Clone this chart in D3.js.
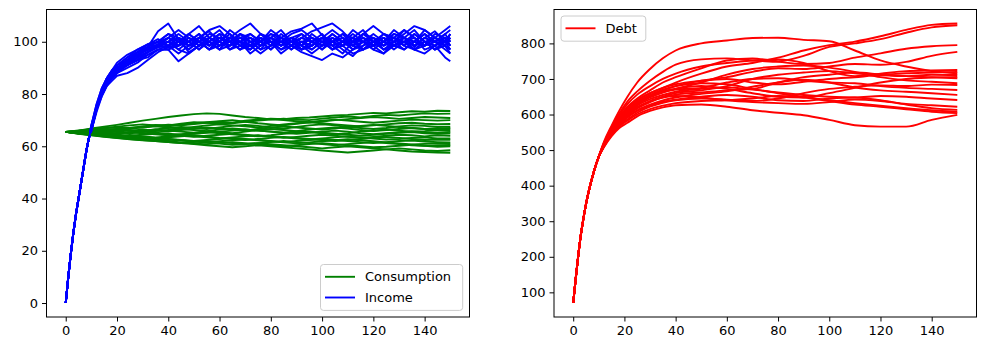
<!DOCTYPE html>
<html><head><meta charset="utf-8">
<script src="https://cdn.jsdelivr.net/npm/d3@7"></script>
<style>
body{margin:0;background:#fff}
svg{display:block}
text{font-family:"DejaVu Sans",sans-serif}
</style>
</head><body>
<svg id="chart" width="986" height="351"></svg>
<script>
// ---------- DATA ----------
const xTicks = [0,20,40,60,80,100,120,140];
const leftYTicks = [0,20,40,60,80,100];
const rightYTicks = [100,200,300,400,500,600,700,800];
const seriesNames = ["Consumption","Income","Debt"];

// income: t = 0..9 shared start, then one row per path from t = 10
const incomeTimes = [0,1,2,3,4,5,6,7,8,9,10,12,14,16,18,20,24,28,32,36,40,44,48,52,56,60,64,68,72,76,80,84,88,92,96,100,104,108,112,116,120,124,128,132,136,140,144,148,150];
const incomeStart = [0,10,19,27,34,40,46,52,58,63];
const incomePaths = [
[67,75,81,85,88,90,93,96,97.5,99,101.5,100,97,101.5,104,100,98.5,103,100,97,101.5,104.5,100,98.5,103,100,97,100,104.5,101.5,98.5,100,103,101.5,98,101.5,104,100,101.5],
[66,74,80,84,87,89,92,94,98,104,107,101,96,98.5,101.5,104.5,100,97,98.5,103,100,95.5,98.5,101.5,100,103,98.5,95.5,100,103,101.5,97,100,104.5,101.5,98.5,100,103,100],
[67,74,80,85,87,89,91,93,96,99,97,92.5,95.5,98.5,100,97,101.5,100,95.5,98.5,101.5,100,97,100,98.5,101.5,100,103,98.5,97,100,101.5,98.5,100,103,100,97,98.5,95.5],
[66,73,79,83,85,87,88,90,93,96,98,98.5,101.5,100,97,100,103,98.5,97,101.5,100,98.5,101.5,97,100,98.5,103,100,101.5,97,98.5,103,101.5,100,97,100,101.5,98.5,97],
[68,76,82,86,89,91,94,96,98,100,98.5,101.5,100,103,98.5,101.5,100,97,100,101.5,98.5,103,100,101.5,104,105.5,107,104,100,101.5,98.5,100,103,101.5,100,98.5,101.5,100,103],
[67,75,81,85,88,90,92,95,97,98,100,98.5,101.5,98.5,100,103,97,100,101.5,98.5,100,97,98.5,96,94.5,93,95.5,94,97,98.5,100,97,98.5,101.5,100,103,100,98.5,97],
[66,74,80,84,87,90,93,95,97,99,100,103,100,97,101.5,100,98.5,101.5,103,100,97,101.5,104,105,107,102.5,100,98.5,101.5,100,97,100,101.5,98.5,103,100,97,100,101.5],
[67,75,80,84,87,89,91,94,96,98,98.5,100,97,100,98.5,101.5,100,103,100,98.5,101.5,100,97,100,101.5,98.5,100,97,94.5,98.5,101.5,100,97,100,98.5,101.5,100,103,104.5],
[68,75,81,85,88,91,94,97,99,98,101.5,104.5,101.5,98.5,100,97,101.5,100,98.5,103,101.5,98.5,100,103,100,97,101.5,100,98.5,103,100,101.5,98.5,97,100,104.5,101.5,100,98.5],
[67,74,80,84,86,88,90,92,95,97,97,100,103,100,97,98.5,101.5,104.5,107,103,100,101.5,98.5,97,100,101.5,98.5,100,103,100,98.5,95.5,100,101.5,104.5,100,98.5,101.5,100],
[66,75,81,86,89,91,93,95,98,100,103,100,98.5,101.5,104.5,106,103,100,98.5,100,97,100,101.5,100,98.5,101.5,97,100,101.5,104.5,100,98.5,101.5,100,97,98.5,101.5,104.5,106],
[67,75,81,85,88,90,92,94,96,98,100,97,100,101.5,98.5,100,97,98.5,101.5,100,103,100,98.5,101.5,100,97,100,101.5,98.5,100,97,95.5,98.5,100,97,95.5,98.5,94,92.5],
[66,74,80,85,88,90,93,96,98,100,101.5,98.5,103,100,101.5,98.5,100,97,100,101.5,98.5,100,103,104.5,101.5,100,97,98.5,100,103,106,103,100,101.5,98.5,100,97,100,103],
[67,75,81,84,87,89,91,93,94,97,98.5,101.5,100,97,100,103,101.5,98.5,97,100,103,101.5,100,97,98.5,101.5,104.5,101.5,100,97,100,103,101.5,104.5,101.5,98.5,100,101.5,100],
[68,76,82,86,88,90,92,95,97,99,100,97,95.5,98.5,101.5,100,104.5,101.5,100,97,98.5,100,101.5,98.5,95.5,98.5,100,103,101.5,100,98.5,101.5,100,97,100,103,100,97,95.5],
[66,74,79,83,86,88,91,94,96,98,100,101.5,98.5,100,97,101.5,100,103,101.5,98.5,100,97,100,98.5,101.5,100,98.5,100,97,100,101.5,98.5,100,103,106,104.5,101.5,100,103],
[67,75,80,84,87,89,92,96,99,101,98.5,100,103,106,101.5,98.5,100,101.5,98.5,100,104.5,101.5,98.5,100,97,100,103,100,98.5,101.5,100,97,98.5,101.5,100,98.5,103,101.5,98.5],
[67,74,81,85,87,90,92,93,95,97,97,98.5,100,103,100,97,98.5,100,103,100,101.5,98.5,100,97,98.5,101.5,100,98.5,101.5,100,103,100,98.5,100,101.5,97,98.5,100,97],
[66,75,81,86,89,92,95,97,99,100,103,101.5,98.5,100,103,101.5,98.5,100,97,101.5,100,98.5,101.5,103,100,98.5,100,101.5,97,100,98.5,100,104.5,101.5,98.5,101.5,100,98.5,101.5],
[67,74,80,84,87,89,91,93,96,98,98.5,95.5,98.5,101.5,100,98.5,101.5,100,98.5,95.5,98.5,101.5,100,98.5,97,100,101.5,98.5,95.5,97,100,98.5,101.5,98.5,97,100,98.5,101.5,98.5]
];

// consumption: one row per path, t = 0,5,...,150
const consumptionTimes = [0,5,10,15,20,25,30,35,40,45,50,55,60,65,70,75,80,85,90,95,100,105,110,115,120,125,130,135,140,145,150];
const consumptionPaths = [
[65.5,66.0,66.8,67.5,68.2,69.0,69.8,70.5,71.2,71.8,72.3,72.6,72.4,71.8,71.2,70.8,70.3,70.0,69.6,69.2,69.5,70.0,70.4,70.8,71.2,70.9,70.5,70.8,71.2,71.0,70.8],
[65.5,65.8,66.2,66.0,66.5,67.0,67.4,67.8,68.3,68.0,68.5,69.0,69.4,69.0,69.8,70.2,70.6,70.4,70.8,71.0,71.4,71.8,72.0,72.4,72.8,72.6,73.0,73.4,73.2,73.6,73.5],
[65.5,65.9,66.5,67.0,67.2,67.0,67.6,68.2,68.0,68.6,69.2,69.0,68.5,68.8,69.4,69.8,70.2,70.6,70.2,70.0,70.6,71.0,71.4,71.0,71.6,72.0,71.8,72.2,72.6,72.4,72.5],
[65.5,66.1,66.4,66.9,67.5,68.0,68.4,68.0,67.6,68.2,68.8,69.2,69.6,70.0,69.4,68.8,68.4,68.0,68.6,69.2,69.8,70.2,69.8,69.4,69.0,69.4,69.8,70.2,70.0,69.8,70.0],
[65.5,65.6,66.0,66.5,66.2,66.8,67.2,67.6,67.2,66.8,67.4,68.0,68.4,68.0,67.6,67.2,67.8,68.4,68.8,69.2,68.8,68.4,68.0,67.6,68.0,68.4,68.8,69.0,68.6,68.4,68.5],
[65.5,65.3,65.8,66.2,66.6,66.2,65.8,66.4,67.0,67.4,67.0,66.6,67.2,67.8,68.2,67.8,67.2,66.8,67.4,68.0,68.4,68.0,67.4,67.0,66.6,67.0,67.6,68.0,67.8,67.4,67.5],
[65.5,65.7,65.4,65.9,66.3,65.9,66.4,66.0,65.6,66.2,66.8,67.2,66.8,66.4,66.0,66.6,67.2,67.6,67.2,66.8,66.4,66.8,67.4,67.8,68.2,67.8,67.4,67.0,66.6,66.8,67.0],
[65.5,65.2,65.6,65.2,64.8,65.4,66.0,66.4,66.0,65.6,65.2,65.8,66.4,66.8,66.4,66.0,65.6,65.2,65.8,66.4,66.8,67.2,66.8,66.2,65.8,66.2,66.6,67.0,66.6,66.4,66.5],
[65.5,65.8,66.2,65.8,65.4,65.0,65.4,65.8,66.2,66.6,66.2,65.8,65.4,65.0,65.6,66.2,66.6,66.2,65.8,65.4,65.0,64.6,65.0,65.6,66.0,66.4,66.0,65.6,65.8,66.2,66.0],
[65.5,65.1,64.8,65.2,65.6,66.0,65.6,65.2,64.8,64.4,64.8,65.2,65.6,66.0,66.4,66.0,65.6,65.2,64.8,65.2,65.6,66.0,65.6,65.0,64.6,65.0,65.4,65.8,65.4,65.2,65.5],
[65.5,65.4,65.0,64.6,64.9,65.3,65.0,64.6,64.2,64.6,65.0,65.4,65.0,64.6,64.2,63.8,64.2,64.8,65.2,65.6,65.2,64.8,64.4,64.0,64.4,64.8,65.2,65.4,65.0,64.8,65.0],
[65.5,65.0,64.6,64.9,64.4,64.0,64.4,64.8,64.4,64.0,63.6,64.0,64.4,64.8,64.4,64.0,63.6,63.2,63.6,64.0,64.4,64.0,63.6,63.2,63.6,64.0,64.4,64.2,63.8,64.2,64.0],
[65.5,65.2,64.7,64.3,63.9,64.3,63.8,63.4,63.8,64.2,63.8,63.4,63.0,63.4,63.8,64.2,63.8,63.4,63.0,62.6,63.0,63.4,63.8,63.4,63.0,62.6,62.8,63.2,63.4,63.0,63.0],
[65.5,65.0,64.5,64.8,64.2,63.8,63.4,63.0,63.4,63.8,64.2,63.8,63.2,62.8,62.4,62.8,63.2,63.6,63.2,62.8,62.4,62.0,62.4,62.8,63.2,63.6,63.2,62.8,62.4,62.6,62.5],
[65.5,64.9,64.4,64.0,63.6,63.2,62.8,63.2,62.8,62.4,62.0,62.4,62.8,63.2,62.8,62.4,62.0,61.6,62.0,62.4,62.8,62.4,62.0,61.6,61.2,61.6,62.0,62.2,61.8,61.6,61.5],
[65.5,65.1,64.6,64.1,63.7,63.3,63.6,63.2,62.7,62.3,61.9,61.5,61.9,62.3,62.7,62.3,61.9,61.5,61.1,61.5,61.9,62.3,62.7,62.3,61.9,61.5,61.1,60.7,60.9,61.2,61.0],
[65.5,64.8,64.2,63.6,63.1,62.7,62.3,62.0,61.6,61.2,61.6,62.0,61.6,61.2,60.8,61.2,61.6,62.0,61.6,61.2,60.8,60.4,60.8,61.2,61.6,61.2,60.8,60.4,60.2,60.4,60.5],
[65.5,65.2,64.8,64.4,64.0,63.5,63.0,62.5,62.0,61.5,61.0,60.8,61.2,61.6,61.2,60.8,60.4,60.0,60.4,60.8,61.2,60.8,60.4,60.0,59.6,59.8,60.2,60.6,60.2,59.8,60.0],
[65.5,64.9,64.3,63.7,63.2,62.8,62.4,62.0,61.6,61.2,60.8,60.4,60.0,59.6,60.0,60.4,60.0,59.6,59.2,58.8,58.4,58.0,57.6,58.0,58.4,58.8,59.2,58.8,58.4,58.2,58.5],
[65.5,65.0,64.5,64.0,63.5,63.2,62.8,62.4,62.6,62.2,61.8,61.4,61.0,60.6,60.8,61.2,60.8,60.4,60.0,59.6,59.2,59.6,60.0,59.6,59.2,58.8,58.4,58.0,57.8,57.6,57.5]
];

// debt: t = 0..10 shared start, then one row per path from t = 12
const debtTimes = [0,1,2,3,4,5,6,8,10,12,15,18,21,25,30,35,40,50,60,70,80,90,100,110,120,130,140,150];
const debtStart = [70,140,205,262,308,348,382,438,482];
const debtPaths = [
[523,569,611,648,690,728,758,780,800,808,815,816,810,806,780,752,735,722,716],
[515,555,590,615,640,660,675,690,715,735,745,760,780,795,805,820,838,852,856],
[518,558,594,620,645,668,690,705,730,752,758,750,765,790,800,812,830,845,851],
[520,564,603,635,665,695,720,740,755,758,752,748,742,745,760,772,785,792,795],
[515,553,584,608,632,652,668,680,695,705,720,730,728,735,742,740,748,765,776],
[519,561,598,628,656,680,700,715,735,745,752,755,745,722,708,715,722,724,725],
[513,548,577,598,620,638,650,660,668,680,700,712,718,722,716,712,716,718,720],
[517,556,590,615,640,660,675,685,695,700,690,685,692,700,705,710,708,712,711],
[514,551,583,605,628,648,662,672,680,672,660,650,648,660,675,690,700,704,706],
[512,547,575,595,617,635,648,656,662,668,672,690,705,712,718,713,708,705,702],
[516,554,587,610,633,652,665,673,690,712,728,735,738,732,720,705,696,692,688],
[510,543,569,585,605,622,633,640,645,642,638,645,660,672,678,682,680,684,683],
[514,552,585,608,632,650,663,670,675,690,700,702,695,690,688,680,675,672,669],
[511,545,573,592,612,628,640,648,658,665,678,690,698,690,676,668,664,660,655],
[513,549,580,602,625,643,655,664,672,676,670,662,655,650,648,652,650,645,641],
[512,548,577,599,620,637,648,652,648,640,635,632,630,635,642,638,630,626,622],
[511,544,571,590,610,625,636,642,650,655,650,640,638,645,648,640,628,618,613],
[515,553,586,610,635,655,670,680,688,685,672,660,650,640,632,625,618,612,608],
[510,542,566,582,600,615,625,632,638,640,645,652,648,638,628,622,615,608,604],
[508,539,562,576,595,610,620,626,628,622,612,605,598,585,570,566,566,585,599]
];

// ---------- DRAW ----------
const svg = d3.select("#chart");
const plotTop = 9.5, plotBottom = 317;
const colors = {Consumption:"#008000", Income:"#0000ff", Debt:"#ff0000"};

const incomeSeries = incomePaths.map(p => incomeStart.concat(p).map((v,i) => [incomeTimes[i], v]));
const consumptionSeries = consumptionPaths.map(p => p.map((v,i) => [consumptionTimes[i], v]));
const debtSeries = debtPaths.map(p => debtStart.concat(p).map((v,i) => [debtTimes[i], v]));

function padded(vals){
  const [a,b] = d3.extent(vals); const m = (b-a)*0.05; return [a-m, b+m];
}
const xDomain = padded([0,150]);

function makePanel(x0, x1, yDomain, yTicks){
  const g = svg.append("g");
  const x = d3.scaleLinear().domain(xDomain).range([x0, x1]);
  const y = d3.scaleLinear().domain(yDomain).range([plotBottom, plotTop]);
  return {g, x, y, x0, x1, yTicks};
}
function finishPanel(p){
  const xa = p.g.append("g").attr("transform",`translate(0,${plotBottom})`)
    .call(d3.axisBottom(p.x).tickValues(xTicks).tickSize(4.5).tickPadding(4).tickFormat(d3.format("d")));
  const ya = p.g.append("g").attr("transform",`translate(${p.x0},0)`)
    .call(d3.axisLeft(p.y).tickValues(p.yTicks).tickSize(4.5).tickPadding(4).tickFormat(d3.format("d")));
  [xa,ya].forEach(a => {
    a.select(".domain").remove();
    a.selectAll("line").attr("stroke","#000").attr("stroke-width",1);
    a.selectAll("text").attr("fill","#000").style("font-size","13px").style("font-family","DejaVu Sans, sans-serif");
  });
  p.g.append("rect").attr("x",p.x0).attr("y",plotTop).attr("width",p.x1-p.x0).attr("height",plotBottom-plotTop)
    .attr("fill","none").attr("stroke","#000").attr("stroke-width",1);
}
function legend(g, lx, ly, items){
  const rowH = 20.7, w = d3.max(items, d => d.length)*8.2 + 52;
  const h = items.length*rowH + 4.5;
  g.append("rect").attr("x",lx).attr("y",ly).attr("width",w).attr("height",h).attr("rx",3)
    .attr("fill","#fff").attr("fill-opacity",0.8).attr("stroke","#cccccc").attr("stroke-width",1);
  items.forEach((name,i) => {
    const cy = ly + 12.3 + i*rowH;
    g.append("line").attr("x1",lx+4.5).attr("x2",lx+34.5).attr("y1",cy).attr("y2",cy)
      .attr("stroke",colors[name]).attr("stroke-width",1.9);
    g.append("text").attr("x",lx+44.5).attr("y",cy).attr("dy","0.36em").text(name)
      .style("font-size","13px").attr("fill","#000");
  });
}

// left panel
const allLeft = incomeSeries.flat().map(d=>d[1]).concat(consumptionSeries.flat().map(d=>d[1]));
const L = makePanel(46.5, 469.5, padded(allLeft), leftYTicks);
const lineL = d3.line().x(d => L.x(d[0])).y(d => L.y(d[1]));
consumptionSeries.forEach((c,i) => {
  L.g.append("path").attr("d", lineL(c)).attr("fill","none").attr("stroke",colors.Consumption).attr("stroke-width",1.9).attr("stroke-linejoin","round");
  L.g.append("path").attr("d", lineL(incomeSeries[i])).attr("fill","none").attr("stroke",colors.Income).attr("stroke-width",1.9).attr("stroke-linejoin","round");
});
finishPanel(L);
legend(L.g, 320.5, 264.5, [seriesNames[0], seriesNames[1]]);

// right panel
const R = makePanel(554, 976.5, padded(debtSeries.flat().map(d=>d[1])), rightYTicks);
const lineR = d3.line().curve(d3.curveMonotoneX).x(d => R.x(d[0])).y(d => R.y(d[1]));
debtSeries.forEach(s => {
  R.g.append("path").attr("d", lineR(s)).attr("fill","none").attr("stroke",colors.Debt).attr("stroke-width",1.9).attr("stroke-linejoin","round");
});
finishPanel(R);
legend(R.g, 561, 16, [seriesNames[2]]);
</script>
</body></html>
